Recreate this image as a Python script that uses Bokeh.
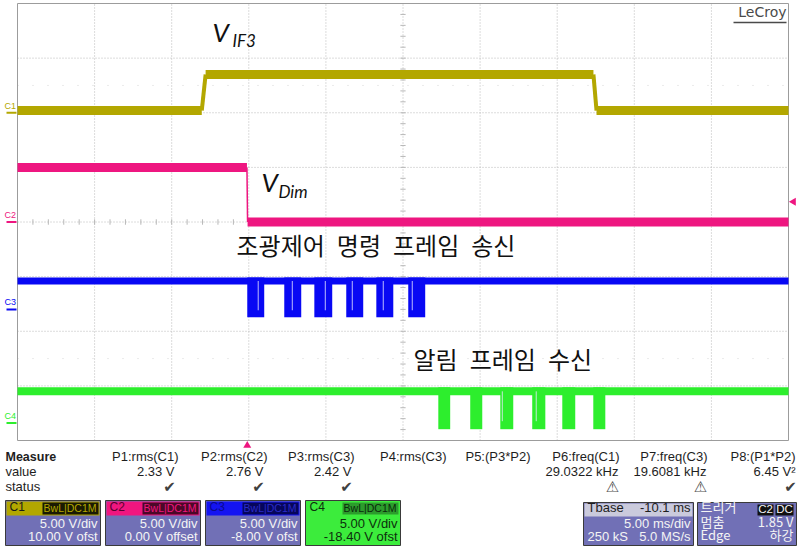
import numpy as np
from bokeh.plotting import figure
from bokeh.models import Range1d
from bokeh.core.properties import value
from bokeh.embed import file_html
from bokeh.resources import INLINE

# ---------------- values ----------------
MS_PER_DIV = 5.0
V_PER_DIV = 5.0
TBASE_MS = -10.1
ch_names = ["C1", "C2", "C3", "C4"]
ch_offsets_v = [10.00, 0.00, -8.00, -18.40]
ch_offset_labels = ["10.00 V ofst", "0.00 V offset", "-8.00 V ofst", "-18.40 V ofst"]

c1_edge_start_ms = [-2.95, 22.45]
c1_edge_end_ms = [-2.70, 22.65]
c1_levels_v = [0.2, 3.5, 0.2]

c2_edge_start_ms = [-0.02]
c2_edge_end_ms = [0.02]
c2_levels_v = [5.0, 0.0]

c3_high_v = 2.6
c3_low_v = -0.4
c3_burst_start_ms = [0.00, 2.40, 4.35, 6.42, 8.37, 10.44]
c3_burst_end_ms = [1.10, 3.50, 5.51, 7.52, 9.47, 11.54]
c3_glitch_ms = [0.71, 2.92, 5.06, 6.81, 8.82, 10.70]

c4_high_v = 2.9
c4_low_v = -0.2
c4_burst_start_ms = [12.39, 14.46, 16.41, 18.48, 20.43, 22.44]
c4_burst_end_ms = [13.16, 15.24, 17.25, 19.33, 21.27, 23.22]
c4_glitch_ms = [16.54, 18.74]

trigger_level_v = 1.85

meas_names = ["P1:rms(C1)", "P2:rms(C2)", "P3:rms(C3)", "P4:rms(C3)",
              "P5:(P3*P2)", "P6:freq(C1)", "P7:freq(C3)", "P8:(P1*P2)"]
meas_values = ["2.33 V", "2.76 V", "2.42 V", "", "", "29.0322 kHz", "19.6081 kHz", "6.45 V\u00b2"]
meas_status = ["ok", "ok", "ok", "", "", "warn", "warn", "ok"]

# ---------------- layout / style ----------------
W, H = 799, 547
GL, GR, GT, GB = 17, 788, 3, 440
NX, NY = 10, 8
T_LEFT = -TBASE_MS - 0.5 * NX * MS_PER_DIV
T_RIGHT = T_LEFT + NX * MS_PER_DIV
px_ms = (GR - GL) / (T_RIGHT - T_LEFT)
px_div = (GB - GT) / NY
yc = (GT + GB) / 2.0
div_top = yc / px_div
div_bot = (yc - H) / px_div

trace_colors = ["#B3A700", "#EE1680", "#0808F4", "#2DEE2D"]
head_colors = ["#B3A700", "#F0167F", "#1414F2", "#3CEC3C"]
PURPLE = "#7170B6"
FONT = value("Liberation Sans")
TXT = "#1E1E1E"

p = figure(width=W, height=H, x_range=Range1d(0, W), y_range=Range1d(H, 0),
           output_backend="svg", toolbar_location=None, min_border=0,
           x_axis_location=None, y_axis_location=None)
p.outline_line_color = None
p.grid.visible = False
p.background_fill_color = "white"
p.border_fill_color = "white"

p.extra_x_ranges = {"t": Range1d(T_LEFT - GL / px_ms, T_RIGHT + (W - GR) / px_ms)}
p.extra_y_ranges = {"div": Range1d(div_bot, div_top)}
for i, off in enumerate(ch_offsets_v):
    p.extra_y_ranges["v%d" % (i + 1)] = Range1d(V_PER_DIV * div_bot - off, V_PER_DIV * div_top - off)

# ---------------- graticule ----------------
GRID_C = "#B8B8B8"
vx = [T_LEFT + k * MS_PER_DIV for k in range(1, NX)]
p.segment(x0=vx, x1=vx, y0=[-NY / 2] * len(vx), y1=[NY / 2] * len(vx),
          x_range_name="t", y_range_name="div", line_color=GRID_C, line_dash="1 2", line_width=1)
hy = [-NY / 2 + k for k in range(1, NY)]
p.segment(x0=[T_LEFT] * len(hy), x1=[T_RIGHT] * len(hy), y0=hy, y1=hy,
          x_range_name="t", y_range_name="div", line_color=GRID_C, line_dash="1 2", line_width=1)
fy = [2.5, -2.5]
p.segment(x0=[T_LEFT] * 2, x1=[T_RIGHT] * 2, y0=fy, y1=fy,
          x_range_name="t", y_range_name="div", line_color="#D6D6D6", line_dash="1 14", line_width=1)
tc = (T_LEFT + T_RIGHT) / 2
ty = np.arange(-NY / 2 + 0.2, NY / 2, 0.2)
p.segment(x0=tc - 0.17, x1=tc + 0.17, y0=ty, y1=ty, x_range_name="t", y_range_name="div",
          line_color=GRID_C, line_width=1)
tx = np.arange(T_LEFT + 1.0, T_RIGHT - 0.5, 1.0)
p.segment(x0=tx, x1=tx, y0=-0.05, y1=0.05, x_range_name="t", y_range_name="div",
          line_color=GRID_C, line_width=1)
p.quad(left=[T_LEFT], right=[T_RIGHT], bottom=[-NY / 2], top=[NY / 2], x_range_name="t",
       y_range_name="div", fill_color=None, line_color="#9C9C9C", line_width=1)

# ---------------- traces ----------------
def half_band(px):
    return px / 2.0 / px_div * V_PER_DIV

def stepped(rng, color, e0, e1, levels, band_px, edge_w):
    d = half_band(band_px)
    lefts = [T_LEFT] + list(e1)
    rights = list(e0) + [T_RIGHT]
    p.quad(left=lefts, right=rights, bottom=[v - d for v in levels], top=[v + d for v in levels],
           x_range_name="t", y_range_name=rng, fill_color=color, line_color=None)
    p.segment(x0=e0, x1=e1, y0=levels[:-1], y1=levels[1:], x_range_name="t", y_range_name=rng,
              line_color=color, line_width=edge_w)

def bursty(rng, color, hi, lo, bs, be, glitches, band_px):
    d = half_band(band_px)
    p.quad(left=[T_LEFT], right=[T_RIGHT], bottom=[hi - d], top=[hi + d],
           x_range_name="t", y_range_name=rng, fill_color=color, line_color=None)
    p.quad(left=bs, right=be, bottom=[lo - d] * len(bs), top=[hi + d] * len(bs),
           x_range_name="t", y_range_name=rng, fill_color=color, line_color=None)
    n = len(glitches)
    p.segment(x0=glitches, x1=glitches, y0=[hi] * n, y1=[lo + d] * n, x_range_name="t",
              y_range_name=rng, line_color="#E8E8FF", line_width=1, line_alpha=0.8)

stepped("v1", trace_colors[0], c1_edge_start_ms, c1_edge_end_ms, c1_levels_v, 9, 4)
stepped("v2", trace_colors[1], c2_edge_start_ms, c2_edge_end_ms, c2_levels_v, 9, 1.5)
bursty("v3", trace_colors[2], c3_high_v, c3_low_v, c3_burst_start_ms, c3_burst_end_ms, c3_glitch_ms, 7)
bursty("v4", trace_colors[3], c4_high_v, c4_low_v, c4_burst_start_ms, c4_burst_end_ms, c4_glitch_ms, 8)

# channel ground markers at the left
for i, name in enumerate(ch_names):
    rng = "v%d" % (i + 1)
    p.segment(x0=[6], x1=[16], y0=[0], y1=[0], y_range_name=rng,
              line_color=trace_colors[i], line_width=2)
    p.text(x=[4], y=[0], text=[name], y_range_name=rng, text_font=FONT, text_font_size="9px",
           text_color=trace_colors[i], text_baseline="bottom", y_offset=-2)

# trigger markers
p.scatter(x=[793], y=[trigger_level_v], y_range_name="v2", marker="triangle", size=8,
          angle=np.pi / 2, fill_color=trace_colors[1], line_color=None)
p.scatter(x=[0], y=[445], x_range_name="t", marker="triangle", size=8,
          fill_color=trace_colors[1], line_color=None)

# ---------------- annotations on the screen ----------------
IT = value("Lato")
p.text(x=[212], y=[47], text=["V"], text_font=IT, text_font_style="italic",
       text_font_size="26px", text_color="#111111")
p.text(x=[232], y=[50], text=["IF3"], text_font=IT, text_font_style="italic",
       text_font_size="17px", text_color="#111111")
p.text(x=[261], y=[197], text=["V"], text_font=IT, text_font_style="italic",
       text_font_size="26px", text_color="#111111")
p.text(x=[278], y=[201], text=["Dim"], text_font=IT, text_font_style="italic",
       text_font_size="17px", text_color="#111111")
KR = value("Noto Sans CJK KR")
SP = "\u2002"
p.text(x=[236], y=[261], text=["조광제어" + SP + "명령" + SP + "프레임" + SP + "송신"], text_font=KR,
       text_font_size="24px", text_color="#111111")
p.text(x=[413], y=[375], text=["알림" + SP + "프레임" + SP + "수신"], text_font=KR,
       text_font_size="24px", text_color="#111111")
p.text(x=[786], y=[19], text=["LeCroy"], text_font=value("DejaVu Sans"), text_font_size="14px",
       text_color="#4A4A4A", text_align="right")
p.segment(x0=[733], x1=[786], y0=[22], y1=[22], line_color="#4A4A4A", line_width=1.5)

# ---------------- measurement table ----------------
col_right = [178, 267, 354, 446, 530, 619, 707, 795]
val_right = [174, 263, 351, 442, 526, 618, 706, 795]
p.text(x=[5], y=[463], text=["Measure"], text_font=FONT, text_font_style="bold",
       text_font_size="12.5px", text_color=TXT)
p.text(x=[5, 5], y=[478, 493], text=["value", "status"], text_font=FONT,
       text_font_size="13px", text_color=TXT)
p.text(x=col_right, y=[463] * 8, text=meas_names, text_font=FONT, text_font_size="13px",
       text_color=TXT, text_align="right")
p.text(x=val_right, y=[478] * 8, text=meas_values, text_font=FONT, text_font_size="13px",
       text_color=TXT, text_align="right")
ok_x = [val_right[i] - 5 for i, s in enumerate(meas_status) if s == "ok"]
warn_x = [val_right[i] - 6 for i, s in enumerate(meas_status) if s == "warn"]
p.text(x=ok_x, y=[495] * len(ok_x), text=["\u2714"] * len(ok_x), text_font=value("DejaVu Sans"),
       text_font_size="15px", text_color="#404040", text_align="center")
p.text(x=warn_x, y=[495] * len(warn_x), text=["\u26a0"] * len(warn_x), text_font=value("DejaVu Sans"),
       text_font_size="15px", text_color="#505050", text_align="center")

# channel boxes
box_l = [5, 105, 205, 305]
box_r = [100, 200, 300, 400]
BT, BH, BB = 500, 515, 545
body_fill = [PURPLE, PURPLE, PURPLE, head_colors[3]]
body_txt = ["#F4F4F4", "#F4F4F4", "#F4F4F4", "#0C300C"]
bw_bg = ["#1A1A02", "#4A0828", "#06065A", "#2C9C2C"]
bw_txt = [head_colors[0], head_colors[1], "#2A2AC8", "#0A2A0A"]
name_txt = ["#1A1A1A", "#5A0030", "#0A0A90", "#0C300C"]
p.quad(left=box_l, right=box_r, bottom=[BB] * 4, top=[BT] * 4, fill_color=body_fill,
       line_color="#3A3A3A", line_width=1)
p.quad(left=[l + 1 for l in box_l], right=[r - 1 for r in box_r], bottom=[BH] * 4, top=[BT + 1] * 4,
       fill_color=head_colors, line_color=None)
p.quad(left=[l + 37 for l in box_l], right=[r - 2 for r in box_r], bottom=[BH - 1] * 4,
       top=[BT + 2] * 4, fill_color=bw_bg, line_color=None)
p.text(x=[l + 4 for l in box_l], y=[BH - 2] * 4, text=ch_names, text_font=FONT,
       text_font_size="12px", text_color=name_txt)
p.text(x=[r - 4 for r in box_r], y=[BH - 2] * 4, text=["BwL|DC1M"] * 4, text_font=FONT,
       text_font_size="10.5px", text_color=bw_txt, text_align="right")
p.text(x=[r - 3 for r in box_r], y=[530] * 4, text=["%.2f V/div" % V_PER_DIV] * 4, text_font=FONT,
       text_font_size="13px", text_color=body_txt, text_align="right")
p.text(x=[r - 3 for r in box_r], y=[543] * 4, text=ch_offset_labels, text_font=FONT,
       text_font_size="13px", text_color=body_txt, text_align="right")

# timebase box
p.quad(left=[583], right=[693], bottom=[BB], top=[502], fill_color=PURPLE, line_color="#3A3A3A")
p.quad(left=[584], right=[692], bottom=[516], top=[503], fill_color="#CACADC", line_color=None)
p.text(x=[587], y=[514], text=["Tbase"], text_font=FONT, text_font_size="13px", text_color=TXT)
p.text(x=[690], y=[514], text=["%.1f ms" % TBASE_MS], text_font=FONT, text_font_size="13px",
       text_color=TXT, text_align="right")
p.text(x=[690, 690], y=[530, 543], text=["%.2f ms/div" % MS_PER_DIV, "5.0 MS/s"], text_font=FONT,
       text_font_size="13px", text_color="#F4F4F4", text_align="right")
p.text(x=[587], y=[543], text=["250 kS"], text_font=FONT, text_font_size="13px", text_color="#F4F4F4")

# trigger box
p.quad(left=[697], right=[796], bottom=[BB], top=[502], fill_color=PURPLE, line_color="#3A3A3A")
p.quad(left=[757, 775], right=[773, 793], bottom=[515, 515], top=[504, 504], fill_color="#111111",
       line_color=None)
p.text(x=[765, 784], y=[514, 514], text=["C2", "DC"], text_font=FONT, text_font_size="11.5px",
       text_color="#F4F4F4", text_align="center")
p.text(x=[700, 700, 700], y=[515, 530, 543], text=["트리거", "멈춤", "Edge"],
       text_font=value("Noto Sans CJK KR"), text_font_size="13px", text_color="#F4F4F4")
p.text(x=[793, 793], y=[530, 543], text=["%.2f V" % trigger_level_v, "하강"],
       text_font=value("Noto Sans CJK KR"), text_font_size="13px", text_color="#F4F4F4",
       text_align="right")

open("out.html", "w").write(file_html(p, INLINE))
